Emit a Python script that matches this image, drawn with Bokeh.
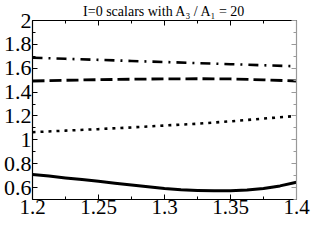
from bokeh.plotting import figure
from bokeh.models import LinearAxis, FixedTicker, CustomJSTickFormatter, Range1d
from bokeh.embed import file_html
from bokeh.resources import INLINE

title_text = "I=0 scalars with A\u2083 / A\u2081 = 20"
x_ticks = [1.2, 1.25, 1.3, 1.35, 1.4]
x_minor = [1.225, 1.275, 1.325, 1.375]
y_ticks = [0.6, 0.8, 1.0, 1.2, 1.4, 1.6, 1.8, 2.0]
y_minor = [0.5, 0.7, 0.9, 1.1, 1.3, 1.5, 1.7, 1.9]

x_solid = [1.2, 1.2125, 1.225, 1.2375, 1.25, 1.2625, 1.275, 1.2875, 1.3,
           1.3125, 1.325, 1.3375, 1.35, 1.3625, 1.375, 1.3875, 1.4]
solid = [0.710, 0.696, 0.681, 0.667, 0.652, 0.637, 0.622, 0.606, 0.592,
         0.582, 0.576, 0.573, 0.574, 0.580, 0.592, 0.614, 0.645]
x = [1.2, 1.225, 1.25, 1.275, 1.3, 1.325, 1.35, 1.375, 1.4]
dotted = [1.064, 1.077, 1.090, 1.104, 1.120, 1.135, 1.155, 1.178, 1.200]
dashed = [1.493, 1.499, 1.504, 1.508, 1.511, 1.512, 1.510, 1.503, 1.493]
dashdot = [1.688, 1.679, 1.670, 1.661, 1.652, 1.643, 1.634, 1.625, 1.616]

FONT = "Liberation Serif"
fmt = CustomJSTickFormatter(code="return (Math.round(tick*1000)/1000).toString();")

p = figure(width=311, height=224, x_range=Range1d(1.2, 1.4), y_range=Range1d(0.5, 2.0),
           output_backend="svg", toolbar_location=None, title=title_text,
           min_border_left=4, min_border_right=15, min_border_top=0, min_border_bottom=25)
p.title.text_font = FONT
p.title.text_font_size = "14px"
p.title.text_font_style = "normal"
p.title.align = "center"
p.title.text_color = "black"
p.title.standoff = 3
p.outline_line_color = None
p.grid.visible = False
p.background_fill_color = "white"
p.border_fill_color = "white"

def style(ax, ticks, minor, labels=True, color="black", size="22px"):
    ax.ticker = FixedTicker(ticks=ticks, minor_ticks=minor)
    ax.formatter = fmt
    ax.axis_line_color = color
    ax.axis_line_width = 1.2
    ax.major_tick_in = 5
    ax.major_tick_out = 0
    ax.minor_tick_in = 3
    ax.minor_tick_out = 0
    ax.major_tick_line_color = color
    ax.minor_tick_line_color = color
    ax.major_label_text_font = FONT
    if labels:
        ax.major_label_text_font_size = size
        ax.major_label_text_color = "black"
        ax.major_label_standoff = 1
    else:
        ax.major_label_text_font_size = "1px"
        ax.major_label_text_color = None
        ax.major_label_standoff = 0

style(p.xaxis[0], x_ticks, x_minor, size="21px")
p.xaxis[0].major_label_standoff = 0
style(p.yaxis[0], y_ticks, y_minor)
top = LinearAxis()
style(top, x_ticks, x_minor, labels=False)
p.add_layout(top, "above")
right = LinearAxis()
style(right, y_ticks, y_minor, labels=False, color="#999999")
p.add_layout(right, "right")

p.line(x, dashdot, line_color="black", line_width=2.6, line_dash="10 6 2 6")
p.line(x, dashed, line_color="black", line_width=2.8, line_dash="12 5")
p.line(x, dotted, line_color="black", line_width=2.6, line_dash="3 5")
p.line(x_solid, solid, line_color="black", line_width=3, line_join="round")

open("out.html", "w").write(file_html(p, INLINE))
